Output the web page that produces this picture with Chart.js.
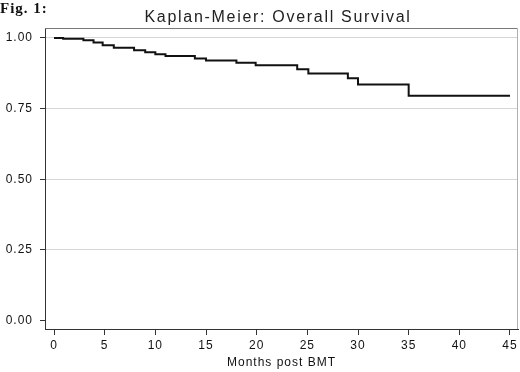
<!DOCTYPE html>
<html><head><meta charset="utf-8">
<script src="https://cdn.jsdelivr.net/npm/chart.js@4.4.0/dist/chart.umd.min.js"></script>
<style>html,body{margin:0;padding:0;background:#fff}#wrap{width:520px;height:372px}</style>
</head><body><div id="wrap"><canvas id="c" width="520" height="372"></canvas></div>
<script>
const figLabel = 'Fig. 1:';
const chartTitle = 'Kaplan-Meier: Overall Survival';
const xAxisTitle = 'Months post BMT';
const months   = [0, 0.9, 2.9, 3.9, 4.8, 5.9, 7.9, 9.0, 10.0, 11.0, 13.9, 15.0, 18.0, 19.9, 24.0, 25.1, 29.0, 30.0, 35.0, 45.0];
const survival = [1.0, 0.997, 0.992, 0.984, 0.974, 0.965, 0.956, 0.949, 0.942, 0.936, 0.927, 0.920, 0.912, 0.903, 0.889, 0.874, 0.857, 0.835, 0.795, 0.795];
const xTicks = [0, 5, 10, 15, 20, 25, 30, 35, 40, 45];
const yTicks = [0, 0.25, 0.5, 0.75, 1.0];

const FONT = '"Liberation Sans", Arial, sans-serif';

const decor = {
  id: 'decor',
  beforeDraw(chart) {
    const ctx = chart.ctx;
    ctx.letterSpacing = '1px';
  },
  afterDraw(chart) {
    const ctx = chart.ctx;
    const a = chart.chartArea;
    ctx.save();
    ctx.lineWidth = 1;
    ctx.strokeStyle = '#7a7a7a';
    ctx.beginPath();
    ctx.moveTo(a.left, a.top + 0.5);
    ctx.lineTo(a.right - 0.5, a.top + 0.5);
    ctx.stroke();
    ctx.strokeStyle = '#b0b0b0';
    ctx.beginPath();
    ctx.moveTo(a.right - 0.5, a.top);
    ctx.lineTo(a.right - 0.5, a.bottom);
    ctx.stroke();
    ctx.fillStyle = '#111';
    ctx.textBaseline = 'alphabetic';
    ctx.textAlign = 'left';
    ctx.letterSpacing = '1px';
    ctx.font = 'bold 15px "Liberation Serif", "Times New Roman", serif';
    ctx.fillText(figLabel, 0, 13);
    ctx.letterSpacing = '1.7px';
    ctx.font = '16px ' + FONT;
    ctx.textAlign = 'center';
    ctx.fillStyle = '#222';
    ctx.fillText(chartTitle, 278, 22);
    ctx.restore();
  }
};

new Chart(document.getElementById('c'), {
  type: 'line',
  data: {
    datasets: [{
      data: months.map((m, i) => ({ x: m, y: survival[i] })),
      borderColor: '#111',
      borderWidth: 2,
      pointRadius: 0,
      stepped: 'before',
      fill: false
    }]
  },
  options: {
    responsive: false,
    devicePixelRatio: 1,
    animation: false,
    layout: { padding: { top: 28, right: 2, left: 0, bottom: 0 } },
    plugins: { legend: { display: false }, tooltip: { enabled: false }, title: { display: false } },
    scales: {
      x: {
        type: 'linear',
        min: -0.89,
        max: 45.79,
        afterBuildTicks: s => { s.ticks = xTicks.map(v => ({ value: v })); },
        afterFit: s => { s.height = 43; },
        grid: { drawOnChartArea: false, drawTicks: true, tickLength: 6, tickColor: '#333' },
        border: { color: '#333', width: 1 },
        ticks: { padding: 3, maxRotation: 0, autoSkip: false, color: '#111', font: { family: FONT, size: 12 } },
        title: { display: true, text: xAxisTitle, color: '#111', font: { family: FONT, size: 12 }, padding: { top: 0, bottom: 2 } }
      },
      y: {
        type: 'linear',
        min: -0.03,
        max: 1.035,
        afterBuildTicks: s => { s.ticks = yTicks.map(v => ({ value: v })); },
        afterFit: s => { s.width = 45; },
        grid: {
          color: c => (c.tick && c.tick.value === 0) ? 'rgba(0,0,0,0)' : '#d6d6d6',
          tickColor: '#333', tickLength: 5, drawTicks: true
        },
        border: { color: '#333', width: 1 },
        ticks: { padding: 7, color: '#111', font: { family: FONT, size: 12 }, callback: v => Number(v).toFixed(2) }
      }
    }
  },
  plugins: [decor]
});
</script>
</body></html>
